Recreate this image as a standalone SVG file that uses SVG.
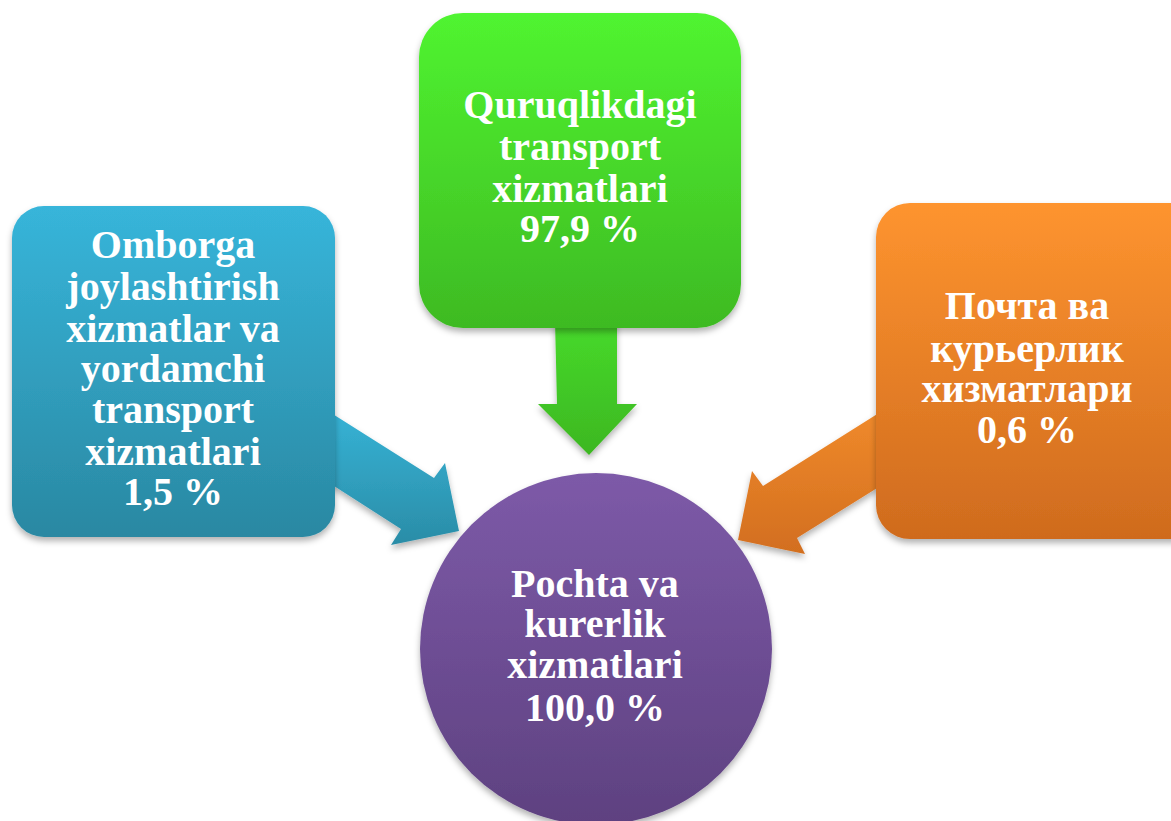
<svg xmlns="http://www.w3.org/2000/svg" width="1171" height="821" viewBox="0 0 1171 821">
<defs>
<linearGradient id="gBlue" x1="0" y1="0" x2="0" y2="1"><stop offset="0" stop-color="#37b5da"/><stop offset="1" stop-color="#2a88a2"/></linearGradient>
<linearGradient id="gGreen" x1="0" y1="0" x2="0" y2="1"><stop offset="0" stop-color="#50f430"/><stop offset="1" stop-color="#3eba23"/></linearGradient>
<linearGradient id="gOrange" x1="0" y1="0" x2="0" y2="1"><stop offset="0" stop-color="#fe942f"/><stop offset="1" stop-color="#cf6b1e"/></linearGradient>
<linearGradient id="gPurple" x1="0" y1="0" x2="0" y2="1"><stop offset="0" stop-color="#7d5aa8"/><stop offset="1" stop-color="#5e4180"/></linearGradient>
<linearGradient id="aBlue" gradientUnits="userSpaceOnUse" x1="0" y1="410" x2="0" y2="550"><stop offset="0" stop-color="#36b3d6"/><stop offset="1" stop-color="#2a8ba5"/></linearGradient>
<linearGradient id="aGreen" gradientUnits="userSpaceOnUse" x1="0" y1="328" x2="0" y2="455"><stop offset="0" stop-color="#46d82a"/><stop offset="1" stop-color="#3db722"/></linearGradient>
<linearGradient id="aOrange" gradientUnits="userSpaceOnUse" x1="0" y1="410" x2="0" y2="555"><stop offset="0" stop-color="#f08a2b"/><stop offset="1" stop-color="#d26e1f"/></linearGradient>
<filter id="sh" x="-10%" y="-10%" width="120%" height="125%"><feDropShadow dx="0" dy="4" stdDeviation="3" flood-color="#000" flood-opacity="0.3"/></filter>
<style>
.t{font-family:"Liberation Serif","Times New Roman",serif;font-weight:bold;font-size:40px;fill:#fff;text-anchor:middle}
</style>
</defs>
<rect width="1171" height="821" fill="#fff"/>
<g id="connectors" filter="url(#sh)">
<path d="M 320 406 L 434 478 L 445 463 L 459 531 L 391 545 L 401 529 L 320 477 Z" fill="url(#aBlue)"/>
<path d="M 555 320 L 617 320 L 617 404 L 637 404 L 589 455 L 538 404 L 557 404 Z" fill="url(#aGreen)"/>
<path d="M 890 406 L 763 486 L 752 471 L 738 540 L 805 554 L 797 538 L 890 480 Z" fill="url(#aOrange)"/>
</g>
<g id="node-blue">
<rect x="12" y="206" width="323" height="331" rx="32" fill="url(#gBlue)" filter="url(#sh)"/>
<text class="t" x="173" y="258">Omborga</text>
<text class="t" x="173" y="300">joylashtirish</text>
<text class="t" x="173" y="342">xizmatlar va</text>
<text class="t" x="173" y="382">yordamchi</text>
<text class="t" x="173" y="423">transport</text>
<text class="t" x="173" y="465">xizmatlari</text>
<text class="t" x="173" y="505">1,5 %</text>
</g>
<g id="node-green">
<rect x="419" y="13" width="322" height="315" rx="44" fill="url(#gGreen)" filter="url(#sh)"/>
<text class="t" x="580" y="118">Quruqlikdagi</text>
<text class="t" x="580" y="160">transport</text>
<text class="t" x="580" y="202">xizmatlari</text>
<text class="t" x="580" y="242">97,9 %</text>
</g>
<g id="node-orange">
<rect x="876" y="203" width="330" height="336" rx="34" fill="url(#gOrange)" filter="url(#sh)"/>
<text class="t" x="1027" y="319">Почта ва</text>
<text class="t" x="1027" y="362">курьерлик</text>
<text class="t" x="1027" y="402">хизматлари</text>
<text class="t" x="1027" y="443">0,6 %</text>
</g>
<g id="node-purple">
<circle cx="596" cy="649" r="176" fill="url(#gPurple)" filter="url(#sh)"/>
<text class="t" x="595" y="597">Pochta va</text>
<text class="t" x="595" y="637">kurerlik</text>
<text class="t" x="595" y="678">xizmatlari</text>
<text class="t" x="595" y="721">100,0 %</text>
</g>
</svg>
